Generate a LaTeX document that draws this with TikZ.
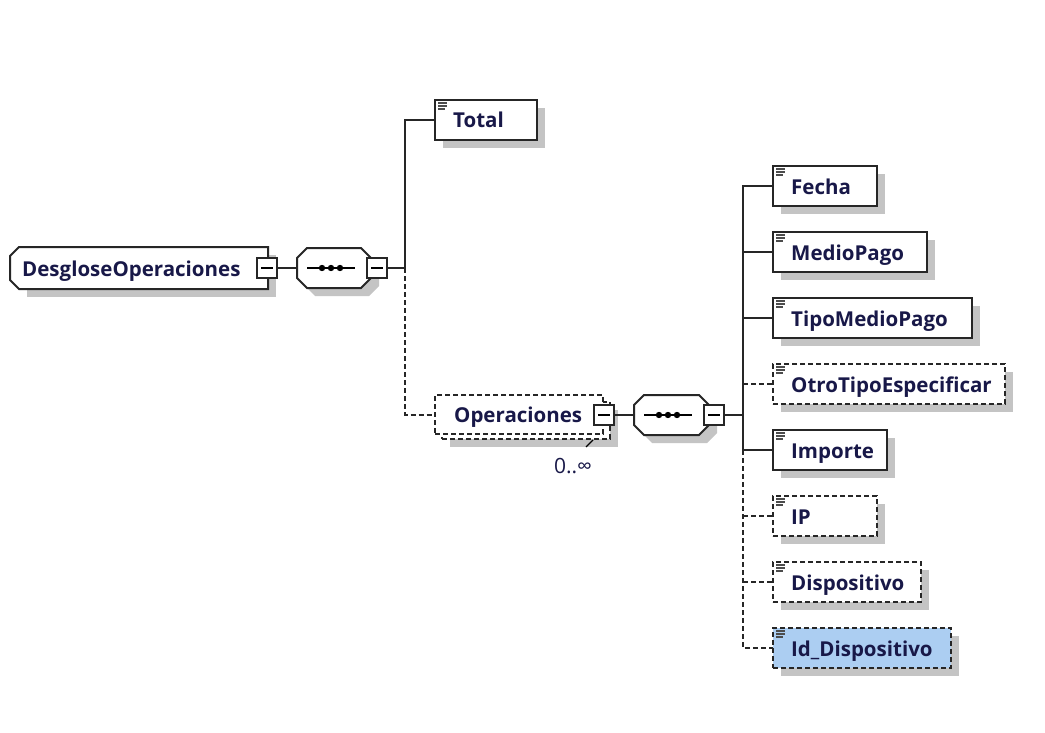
\documentclass[tikz,border=0pt]{standalone}
\usepackage{fontspec}
\setmainfont{Open Sans}
\usetikzlibrary{calc}
\definecolor{txt}{RGB}{24,24,72}
\definecolor{shadowc}{RGB}{196,196,196}
\definecolor{selblue}{RGB}{172,206,242}
\tikzset{
  x=1pt, y=-1pt,
  boxline/.style={line width=2pt, draw=black!85},
  dsh/.style={dash pattern=on 5pt off 3pt},
  geom/.style={draw=none, inner sep=0pt, outer sep=0pt, anchor=north west},
  ebox/.style={boxline, fill=white, inner sep=0pt, outer sep=0pt, minimum height=40pt, anchor=north west},
  lbl/.style={inner sep=0pt, anchor=base west, text=txt, font=\bfseries\fontsize{20.5}{20.5}\selectfont},
  shd/.style={fill=shadowc},
  icon/.style={line width=1.1pt, draw=black!70},
  conn/.style={line width=2pt, draw=black!85},
  dconn/.style={conn, dsh},
  minusbox/.style={boxline, fill=white, minimum width=20pt, minimum height=20pt, inner sep=0pt, outer sep=0pt},
  dotc/.style={fill=black, draw=none},
}
% name, x, y, width, text, extra style
\newcommand\xelem[6]{%
  \fill[shd] (#2+8,#3+8) rectangle ++(#4,40);
  \node[ebox,#6,minimum width=#4pt] (#1) at (#2,#3) {};
  \node[lbl] (#1T) at ([xshift=18pt,yshift=-8pt]#1.west) {#5};
  \draw[icon] ([xshift=3pt,yshift=-3pt]#1.north west) -- ++(9,0);
  \draw[icon] ([xshift=3pt,yshift=-6pt]#1.north west) -- ++(9,0);
  \draw[icon] ([xshift=3pt,yshift=-9pt]#1.north west) -- ++(7,0);
}
% octagon sequence: name, x, y, w, h
\newcommand\xseq[5]{%
  \node[geom, minimum width=#4pt, minimum height=#5pt] (#1) at (#2,#3) {};
  \fill[shd] ([shift={(18pt,-8pt)}]#1.north west) -- ([shift={(-2pt,-8pt)}]#1.north east)
    -- ([shift={(8pt,-18pt)}]#1.north east) -- ([shift={(8pt,2pt)}]#1.south east)
    -- ([shift={(-2pt,-8pt)}]#1.south east) -- ([shift={(18pt,-8pt)}]#1.south west)
    -- ([shift={(8pt,2pt)}]#1.south west) -- ([shift={(8pt,-18pt)}]#1.north west) -- cycle;
  \draw[boxline, fill=white] ([xshift=10pt]#1.north west) -- ([xshift=-10pt]#1.north east)
    -- ([yshift=-10pt]#1.north east) -- ([yshift=10pt]#1.south east)
    -- ([xshift=-10pt]#1.south east) -- ([xshift=10pt]#1.south west)
    -- ([yshift=10pt]#1.south west) -- ([yshift=-10pt]#1.north west) -- cycle;
  \draw[line width=2pt] ([xshift=10pt]#1.west) -- ([xshift=58pt]#1.west);
  \fill[dotc] ([xshift=25pt]#1.west) circle (3.2pt);
  \fill[dotc] ([xshift=34pt]#1.west) circle (3.2pt);
  \fill[dotc] ([xshift=43pt]#1.west) circle (3.2pt);
}
\newcommand\xminus[3]{%
  \node[minusbox] (#1) at (#2,#3) {};
  \draw[line width=1.3pt] ([xshift=4pt]#1.west) -- ([xshift=-4pt]#1.east);
}
\begin{document}
\begin{tikzpicture}
\useasboundingbox (0,0) rectangle (1045,733);
\fill[white] (0,0) rectangle (1045,733);

% ---------- DesgloseOperaciones ----------
\node[geom, minimum width=258pt, minimum height=42pt] (desg) at (10,247) {};
\fill[shd] ([shift={(17pt,-8pt)}]desg.north west) -- ([shift={(8pt,-8pt)}]desg.north east)
  -- ([shift={(8pt,-8pt)}]desg.south east) -- ([shift={(17pt,-8pt)}]desg.south west)
  -- cycle;
\draw[boxline, fill=white] ([xshift=9pt]desg.north west) -- (desg.north east)
  -- (desg.south east) -- ([xshift=9pt]desg.south west)
  -- ([yshift=9pt]desg.south west) -- ([yshift=-9pt]desg.north west) -- cycle;
\node[lbl] (desgT) at ([xshift=12pt,yshift=-8pt]desg.west) {DesgloseOperaciones};
\xminus{desgM}{267}{268}

% ---------- first sequence ----------
\xseq{seqA}{297}{248}{74}{40}
\xminus{seqAM}{377}{268}
\draw[conn] (desgM.east) -- (desgM.east -| seqA.west);
\coordinate (jA) at (405,268);

% ---------- Total ----------
\xelem{total}{435}{100}{102}{Total}{}

% ---------- Operaciones (repeated, optional) ----------
\fill[shd] (450,410) rectangle (618,447);
\node[ebox, dsh, minimum width=168pt, minimum height=37pt] (operB) at (442,402) {};
\node[ebox, dsh, minimum width=168pt, minimum height=39pt] (oper) at (435,395) {};
\node[lbl] (operT) at ([xshift=19pt,yshift=-8pt]oper.west) {Operaciones};
\xminus{operM}{604}{415}
\draw[line width=1.4pt] (586,447) -- (593,440);
\node[inner sep=0pt, anchor=base, text=txt, font=\fontsize{21}{21}\selectfont] (occ) at (573,473) {0..∞};

\draw[conn] (seqAM.east) -- (jA) |- (total.west);
\draw[dconn] (jA) |- (oper.west);

% ---------- second sequence ----------
\xseq{seqB}{634}{395}{75}{40}
\xminus{seqBM}{714}{415}
\draw[conn] (operM.east) -- (operM.east -| seqB.west);
\coordinate (jB) at (743,415);

% ---------- children ----------
\xelem{fecha}{773}{166}{104}{Fecha}{}
\xelem{medio}{773}{232}{154}{MedioPago}{}
\xelem{tipo}{773}{298}{199}{TipoMedioPago}{}
\xelem{otro}{773}{364}{232}{OtroTipoEspecificar}{dsh}
\xelem{importe}{773}{430}{114}{Importe}{}
\xelem{ip}{773}{496}{104}{IP}{dsh}
\xelem{disp}{773}{562}{148}{Dispositivo}{dsh}
\xelem{iddisp}{773}{628}{178}{Id\_Dispositivo}{dsh,fill=selblue}

\draw[conn] (seqBM.east) -- (jB);
\draw[conn] (fecha.west) -| (jB |- importe.west) -- (importe.west);
\draw[conn] (medio.west) -- (medio.west -| jB);
\draw[conn] (tipo.west) -- (tipo.west -| jB);
\draw[dconn] (otro.west -| jB) -- (otro.west);
\draw[dconn] (importe.west -| jB) |- (iddisp.west);
\draw[dconn] (ip.west -| jB) -- (ip.west);
\draw[dconn] (disp.west -| jB) -- (disp.west);
\end{tikzpicture}
\end{document}
